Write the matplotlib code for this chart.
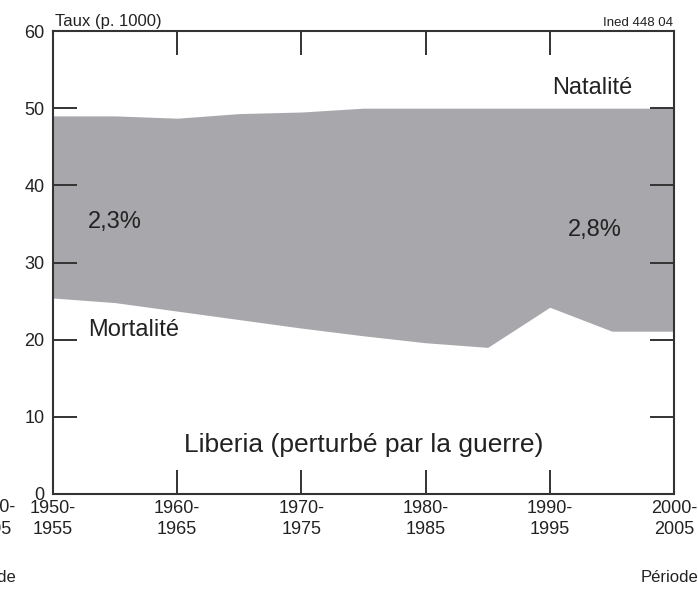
import matplotlib
matplotlib.use("Agg")
import matplotlib.pyplot as plt
from matplotlib import font_manager

# periods (start year of each 5-year period)
years = [1950, 1955, 1960, 1965, 1970, 1975, 1980, 1985, 1990, 1995, 2000]
natalite = [49.0, 49.0, 48.7, 49.3, 49.5, 50.0, 50.0, 50.0, 50.0, 50.0, 50.0]
mortalite = [25.4, 24.8, 23.7, 22.6, 21.5, 20.5, 19.6, 19.0, 24.2, 21.1, 21.1]

xtick_pos = [1950, 1960, 1970, 1980, 1990, 2000]
xtick_labels = ["1950-\n1955", "1960-\n1965", "1970-\n1975", "1980-\n1985", "1990-\n1995", "2000-\n2005"]
ytick_pos = [0, 10, 20, 30, 40, 50, 60]

# pick a narrow font if present
names = {f.name for f in font_manager.fontManager.ttflist}
fam = "Liberation Sans Narrow" if "Liberation Sans Narrow" in names else "Liberation Sans"
plt.rcParams['font.family'] = [fam, 'DejaVu Sans']

txt = '#222222'
grey = '#a8a8ac'

fig = plt.figure(figsize=(6.98, 5.92), dpi=100)
ax = fig.add_axes([53/698, 1 - 494/592, (674-53)/698, (494-31)/592])

# shaded area between birth and death rates
ax.fill_between(years, mortalite, natalite, color=grey, linewidth=0)

ax.set_xlim(1950, 2000)
ax.set_ylim(0, 60)
ax.set_xticks(xtick_pos)
ax.set_xticklabels(xtick_labels, linespacing=1.35)
ax.set_yticks(ytick_pos)

for s in ax.spines.values():
    s.set_linewidth(1.5)
    s.set_color('#333333')

ax.tick_params(direction='in', length=17, width=1.4, color='#333333',
               top=True, right=True, labelsize=13, labelcolor=txt)
ax.tick_params(axis='x', pad=4)
ax.tick_params(axis='y', pad=6)

# annotations inside the plot
ax.text(1993.4, 52.6, "Natalité", fontsize=17, color=txt, ha='center', va='center')
ax.text(1956.5, 21.3, "Mortalité", fontsize=17, color=txt, ha='center', va='center')
ax.text(1955.0, 35.2, "2,3%", fontsize=17, color=txt, ha='center', va='center')
ax.text(1993.6, 34.2, "2,8%", fontsize=17, color=txt, ha='center', va='center')
ax.text(1975, 6.3, "Liberia (perturbé par la guerre)", fontsize=19, color=txt,
        ha='center', va='center')

# labels around the frame
fig.text(55/698, 1 - 29/592, "Taux (p. 1000)", fontsize=12, color=txt, ha='left', va='bottom')
fig.text(673/698, 1 - 29/592, "Ined 448 04", fontsize=9.5, color=txt, ha='right', va='bottom')
fig.text(1.0, 1 - 578/592, "Période", fontsize=12, color=txt, ha='right', va='center')

# fragments of the neighbouring chart cut by the left edge
fig.text(15/698, 1 - 507/592, "2000-", fontsize=13, color=txt, ha='right', va='center')
fig.text(11/698, 1 - 530/592, "2005", fontsize=13, color=txt, ha='right', va='center')
fig.text(16/698, 1 - 578/592, "Période", fontsize=12, color=txt, ha='right', va='center')

fig.savefig("out.png", dpi=100)
